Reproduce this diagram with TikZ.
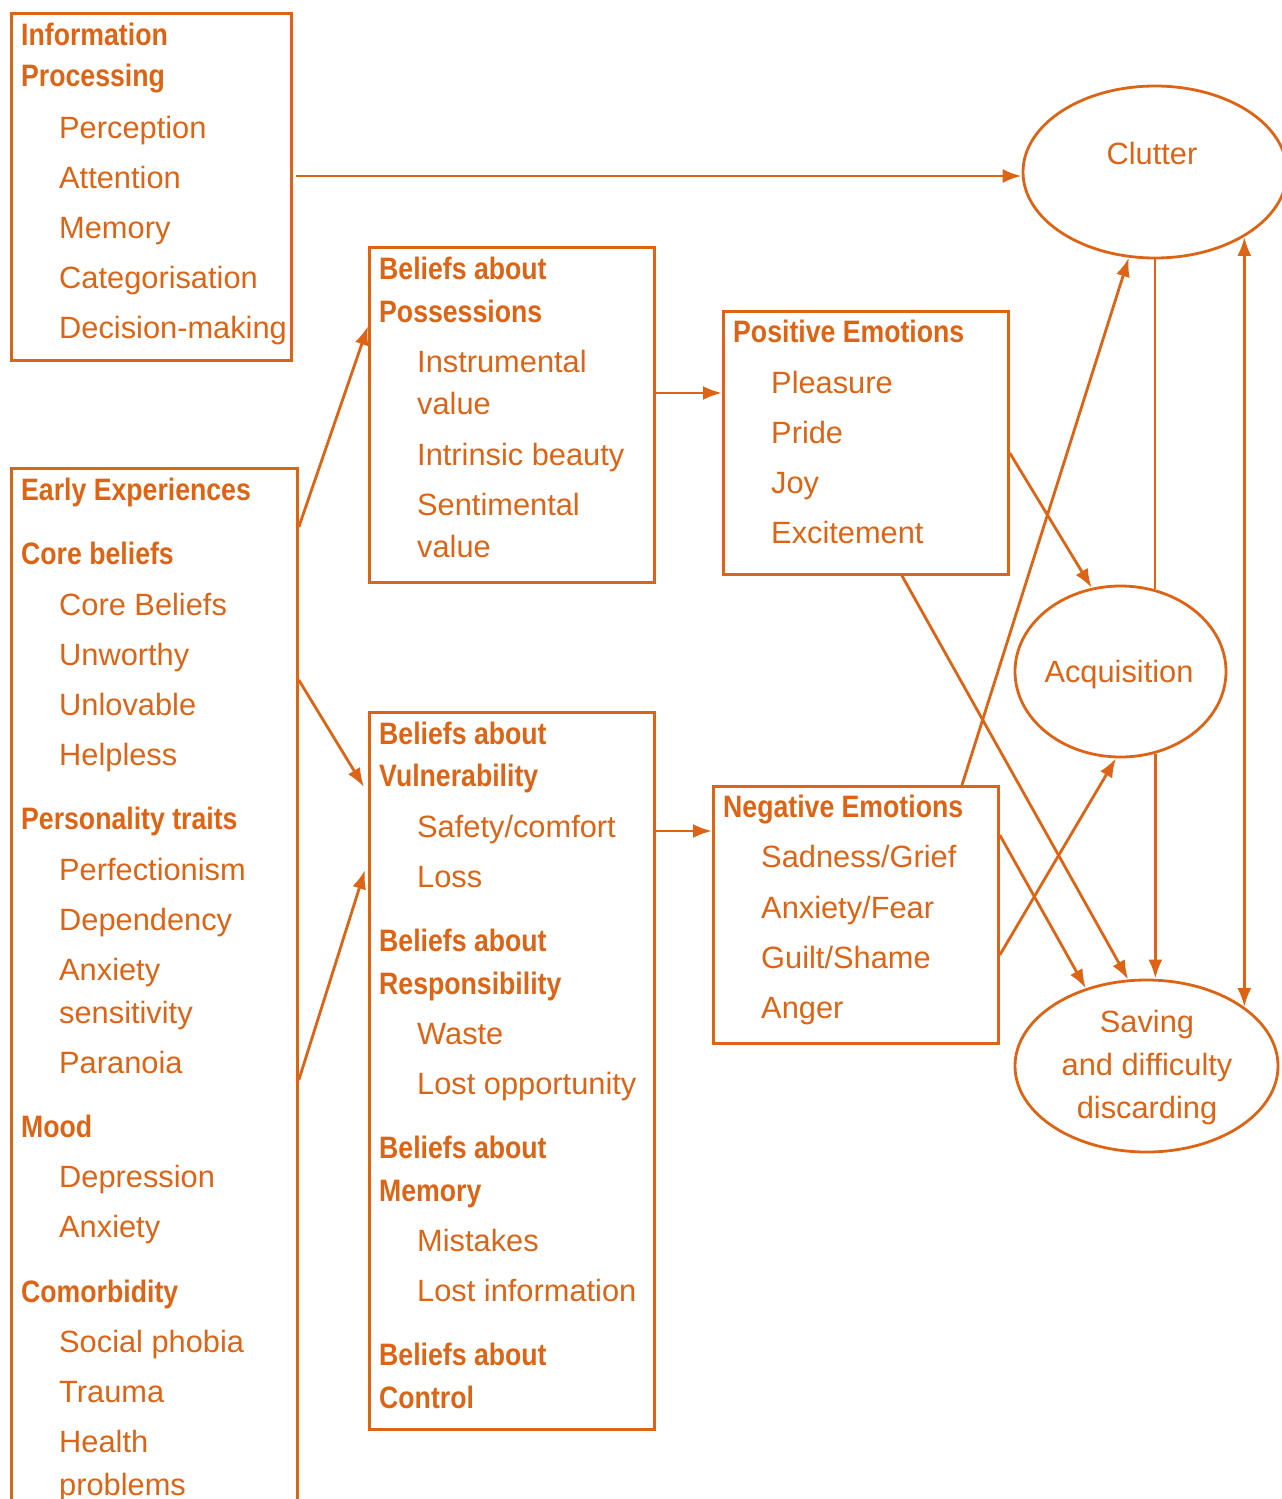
\documentclass[tikz,border=0pt]{standalone}
\usepackage{fontspec}
\setmainfont{Liberation Sans}
\newfontfamily\hdfont[FakeStretch=0.86]{Liberation Sans}
\usetikzlibrary{arrows.meta,shapes.geometric}
\definecolor{org}{RGB}{221,100,20}
\tikzset{
  box/.style={draw=org, line width=2.8pt, rectangle, inner sep=0pt, anchor=north west},
  ell/.style={draw=org, line width=2.8pt, ellipse, inner sep=0pt},
  reg/.style={text=org, anchor=base west, inner sep=0pt, font=\fontsize{30.8}{36}\selectfont},
  hd/.style={text=org, anchor=base west, inner sep=0pt, font=\hdfont\bfseries\fontsize{31}{36}\selectfont},
  ctr/.style={reg, anchor=base},
  arr/.style={draw=org, line width=2.8pt, -{Latex[length=19pt,width=14pt]}},
  dbl/.style={draw=org, line width=2.8pt, {Latex[length=19pt,width=14pt]}-{Latex[length=19pt,width=14pt]}},
  ln/.style={draw=org, line width=2.8pt}
}
\begin{document}
\begin{tikzpicture}[x=1pt,y=-1pt]
\clip (0,0) rectangle (1282,1499);
% boxes
\node[box, minimum width=280pt, minimum height=347pt] (info) at (10,12) {};
\node[box, minimum width=286pt, minimum height=1060pt] (early) at (10,467) {};
\node[box, minimum width=285pt, minimum height=335pt] (poss) at (368,246) {};
\node[box, minimum width=285pt, minimum height=717pt] (vuln) at (368,711) {};
\node[box, minimum width=285pt, minimum height=263pt] (pos) at (722,310) {};
\node[box, minimum width=285pt, minimum height=257pt] (neg) at (712,785) {};
% ellipses
\node[ell, minimum width=264pt, minimum height=172pt] (clutter) at (1155,172) {};
\node[ell, minimum width=211pt, minimum height=171pt] (acq) at (1120.5,671.5) {};
\node[ell, minimum width=263pt, minimum height=172pt] (sav) at (1146.5,1066) {};
\node[ctr] (tclutter) at (1152,164) {Clutter};
\node[ctr] (tacq) at (1119,682) {Acquisition};
\node[ctr] (tsav1) at (1147,1032) {Saving};
\node[ctr] (tsav2) at (1147,1075) {and difficulty};
\node[ctr] (tsav3) at (1147,1118) {discarding};
% info texts
\node[hd] (i1) at (21,45) {Information};
\node[hd] (i2) at (21,86) {Processing};
\node[reg] (i3) at (59,138) {Perception};
\node[reg] (i4) at (59,188) {Attention};
\node[reg] (i5) at (59,238) {Memory};
\node[reg] (i6) at (59,288) {Categorisation};
\node[reg] (i7) at (59,338) {Decision-making};
% possessions
\node[hd] (p1) at (379,279) {Beliefs about};
\node[hd] (p2) at (379,322) {Possessions};
\node[reg] (p3) at (417,372) {Instrumental};
\node[reg] (p4) at (417,414) {value};
\node[reg] (p5) at (417,465) {Intrinsic beauty};
\node[reg] (p6) at (417,515) {Sentimental};
\node[reg] (p7) at (417,557) {value};
% positive
\node[hd] (q1) at (733,342) {Positive Emotions};
\node[reg] (q2) at (771,393) {Pleasure};
\node[reg] (q3) at (771,443) {Pride};
\node[reg] (q4) at (771,493) {Joy};
\node[reg] (q5) at (771,543) {Excitement};
% negative
\node[hd] (n1) at (723,817) {Negative Emotions};
\node[reg] (n2) at (761,867) {Sadness/Grief};
\node[reg] (n3) at (761,918) {Anxiety/Fear};
\node[reg] (n4) at (761,968) {Guilt/Shame};
\node[reg] (n5) at (761,1018) {Anger};
% early
\node[hd] (e1) at (21,500) {Early Experiences};
\node[hd] (e2) at (21,564) {Core beliefs};
\node[reg] (e3) at (59,615) {Core Beliefs};
\node[reg] (e4) at (59,665) {Unworthy};
\node[reg] (e5) at (59,715) {Unlovable};
\node[reg] (e6) at (59,765) {Helpless};
\node[hd] (e7) at (21,829) {Personality traits};
\node[reg] (e8) at (59,880) {Perfectionism};
\node[reg] (e9) at (59,930) {Dependency};
\node[reg] (e10) at (59,980) {Anxiety};
\node[reg] (e11) at (59,1023) {sensitivity};
\node[reg] (e12) at (59,1073) {Paranoia};
\node[hd] (e13) at (21,1137) {Mood};
\node[reg] (e14) at (59,1187) {Depression};
\node[reg] (e15) at (59,1237) {Anxiety};
\node[hd] (e16) at (21,1302) {Comorbidity};
\node[reg] (e17) at (59,1352) {Social phobia};
\node[reg] (e18) at (59,1402) {Trauma};
\node[reg] (e19) at (59,1452) {Health};
\node[reg] (e20) at (59,1495) {problems};
% vulnerability
\node[hd] (v1) at (379,744) {Beliefs about};
\node[hd] (v2) at (379,786) {Vulnerability};
\node[reg] (v3) at (417,837) {Safety/comfort};
\node[reg] (v4) at (417,887) {Loss};
\node[hd] (v5) at (379,951) {Beliefs about};
\node[hd] (v6) at (379,994) {Responsibility};
\node[reg] (v7) at (417,1044) {Waste};
\node[reg] (v8) at (417,1094) {Lost opportunity};
\node[hd] (v9) at (379,1158) {Beliefs about};
\node[hd] (v10) at (379,1201) {Memory};
\node[reg] (v11) at (417,1251) {Mistakes};
\node[reg] (v12) at (417,1301) {Lost information};
\node[hd] (v13) at (379,1365) {Beliefs about};
\node[hd] (v14) at (379,1408) {Control};
% connectors
\coordinate (cin) at ([yshift=-4pt]clutter.west);
\draw[arr] ([xshift=3pt]info.east |- cin) -- (cin);
\draw[arr] ([yshift=-60pt]early.north east) -- ([yshift=-80pt]poss.north west);
\draw[arr] ([yshift=-213pt]early.north east) -- ([yshift=-76pt,xshift=-4pt]vuln.north west);
\draw[arr] ([yshift=-613pt]early.north east) -- ([yshift=-159pt,xshift=-3pt]vuln.north west);
\draw[arr] ([yshift=-147pt]poss.north east) -- ([yshift=-83pt]pos.north west);
\draw[arr] ([yshift=-120pt]vuln.north east) -- ([yshift=-46pt]neg.north west);
\draw[arr] ([yshift=-143pt]pos.north east) -- (acq.109);
\draw[arr] ([xshift=180pt]pos.south west) -- (sav.102);
\draw[arr] ([xshift=250pt]neg.north west) -- (clutter.253);
\draw[arr] ([yshift=-50pt]neg.north east) -- (sav.128);
\draw[arr] ([yshift=-170pt]neg.north east) -- (acq.267);
\draw[ln] (clutter.south) -- (clutter.south |- acq.67);
\draw[arr] (acq.-67) -- (acq.-67 |- sav.north);
\draw[dbl] (clutter.-36) -- (clutter.-36 |- sav.31);
\end{tikzpicture}
\end{document}
